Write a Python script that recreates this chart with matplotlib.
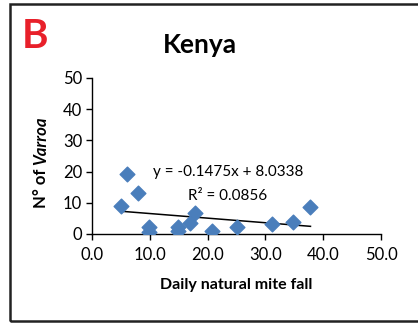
import matplotlib.pyplot as plt
from matplotlib.patches import Rectangle
import numpy as np

plt.rcParams['font.family'] = ['Lato', 'DejaVu Sans']

# daily mite fall vs. number of Varroa per colony
mite_fall = [5.0, 6.0, 8.0, 9.9, 9.9, 14.9, 14.9, 17.0, 17.9, 20.8, 25.0, 31.1, 34.8, 37.8]
varroa = [9.0, 19.2, 13.0, 2.1, 0.7, 2.1, 1.0, 3.4, 6.6, 1.0, 2.1, 3.2, 3.9, 8.7]
slope, intercept = -0.1475, 8.0338
r_squared = 0.0856
x_ticks = [0, 10, 20, 30, 40, 50]
y_ticks = [0, 10, 20, 30, 40, 50]

fig = plt.figure(figsize=(4.18, 3.23), dpi=100)
ax = fig.add_axes([92 / 418, 1 - 234 / 323, 289 / 418, 156 / 323])

ax.scatter(mite_fall, varroa, marker='D', s=56, color='#4a7ebb', zorder=3)

xfit = np.array([min(mite_fall), max(mite_fall)])
ax.plot(xfit, slope * xfit + intercept, color='black', lw=1.1, zorder=2)

ax.set_xlim(0, 50)
ax.set_ylim(0, 50)
ax.set_xticks(x_ticks)
ax.set_xticklabels([f'{t:.1f}' for t in x_ticks])
ax.set_yticks(y_ticks)
ax.tick_params(direction='out', length=4, width=1, labelsize=12, pad=3)
ax.tick_params(axis='x', pad=5)
for side in ('top', 'right'):
    ax.spines[side].set_visible(False)
for side in ('left', 'bottom'):
    ax.spines[side].set_linewidth(1)

ax.set_xlabel('Daily natural mite fall', fontsize=11.5, fontweight='bold', labelpad=11)

# y label: plain bold part, then bold italic genus name stacked above it
ylab = fig.text(41 / 418, 1 - 208 / 323, 'N° of ', rotation=90, fontsize=12,
                fontweight='bold', ha='center', va='bottom')
fig.canvas.draw()
ext = ylab.get_window_extent()
fig.text(41 / 418, ext.y1 / fig.bbox.height, 'Varroa', rotation=90, fontsize=12,
         fontweight='bold', fontstyle='italic', ha='center', va='bottom')

ax.text(23.5, 19.8, f'y = {slope}x + {intercept}', fontsize=11, ha='center', va='center')
ax.text(23.5, 12.2, f'R² = {r_squared}', fontsize=11, ha='center', va='center')

fig.text(200 / 418, 1 - 45 / 323, 'Kenya', fontsize=19, fontweight='bold', ha='center', va='center')
fig.text(35 / 418, 1 - 36 / 323, 'B', fontsize=29, fontweight='bold', color='#e8202a',
         ha='center', va='center')

fig.patches.append(Rectangle((9.5 / 418, 1 - 321 / 323), 1.0, 317 / 323,
                             transform=fig.transFigure, fill=False, lw=1.8,
                             edgecolor='#222222'))

fig.savefig('out.png', dpi=100)
